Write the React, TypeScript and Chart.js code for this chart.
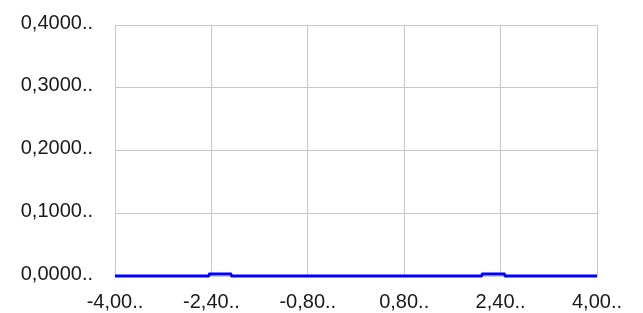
import React, { useEffect, useRef } from "react";
import { Chart, registerables } from "chart.js";

Chart.register(...registerables);

const xValues = [-4.0, -2.45, -2.43, -2.08, -2.06, 2.08, 2.1, 2.46, 2.48, 4.0];
const yValues = [0.0, 0.0, 0.003, 0.003, 0.0, 0.0, 0.003, 0.003, 0.0, 0.0];

const xTickValues = [-4.0, -2.4, -0.8, 0.8, 2.4, 4.0];
const xTickLabels = ["-4,00..", "-2,40..", "-0,80..", "0,80..", "2,40..", "4,00.."];
const yTickValues = [0.0, 0.1, 0.2, 0.3, 0.4];
const yTickLabels = ["0,0000..", "0,1000..", "0,2000..", "0,3000..", "0,4000.."];

export default function App() {
  const ref = useRef<HTMLCanvasElement | null>(null);

  useEffect(() => {
    document.body.style.margin = "0";
    const canvas = ref.current;
    if (!canvas) return;
    const font = { family: "'Liberation Sans', Arial, sans-serif", size: 20, lineHeight: 1.2 };
    const chart = new Chart(canvas, {
      type: "line",
      data: {
        datasets: [
          {
            data: xValues.map((x, i) => ({ x, y: yValues[i] })),
            borderColor: "#0000ff",
            borderWidth: 3,
            pointRadius: 0,
            tension: 0,
            fill: false,
            clip: false,
          },
        ],
      },
      options: {
        responsive: false,
        animation: false,
        layout: { padding: { left: 0, right: 46, top: 25, bottom: 0 } },
        plugins: { legend: { display: false }, tooltip: { enabled: false } },
        scales: {
          x: {
            type: "linear",
            min: -4,
            max: 4,
            afterBuildTicks: (axis: any) => {
              axis.ticks = xTickValues.map((v) => ({ value: v }));
            },
            afterFit: (axis: any) => {
              axis.height = 37;
            },
            ticks: {
              autoSkip: false,
              maxRotation: 0,
              padding: 14,
              color: "#1a1a1a",
              font,
              callback: (v: any) => {
                const i = xTickValues.findIndex((t) => Math.abs(t - Number(v)) < 1e-6);
                return i >= 0 ? xTickLabels[i] : "";
              },
            },
            grid: { color: "#c8c8c8", lineWidth: 1, drawTicks: false },
            border: { color: "#c8c8c8", width: 1 },
          },
          y: {
            type: "linear",
            min: 0,
            max: 0.4,
            afterBuildTicks: (axis: any) => {
              axis.ticks = yTickValues.map((v) => ({ value: v }));
            },
            afterFit: (axis: any) => {
              axis.width = 115;
            },
            ticks: {
              autoSkip: false,
              padding: 0,
              labelOffset: -2,
              color: "#1a1a1a",
              font,
              callback: (v: any) => {
                const i = yTickValues.findIndex((t) => Math.abs(t - Number(v)) < 1e-6);
                return i >= 0 ? yTickLabels[i] : "";
              },
            },
            grid: {
              color: "#c8c8c8",
              lineWidth: 1,
              drawTicks: true,
              tickLength: 22,
              tickColor: "rgba(0,0,0,0)",
            },
            border: { color: "#c8c8c8", width: 1 },
          },
        },
      },
    });
    return () => chart.destroy();
  }, []);

  return (
    <div style={{ position: "absolute", left: 0, top: 0, width: 643, height: 313, background: "#fff" }}>
      <canvas ref={ref} width={643} height={313} style={{ width: 643, height: 313, display: "block" }} />
    </div>
  );
}
